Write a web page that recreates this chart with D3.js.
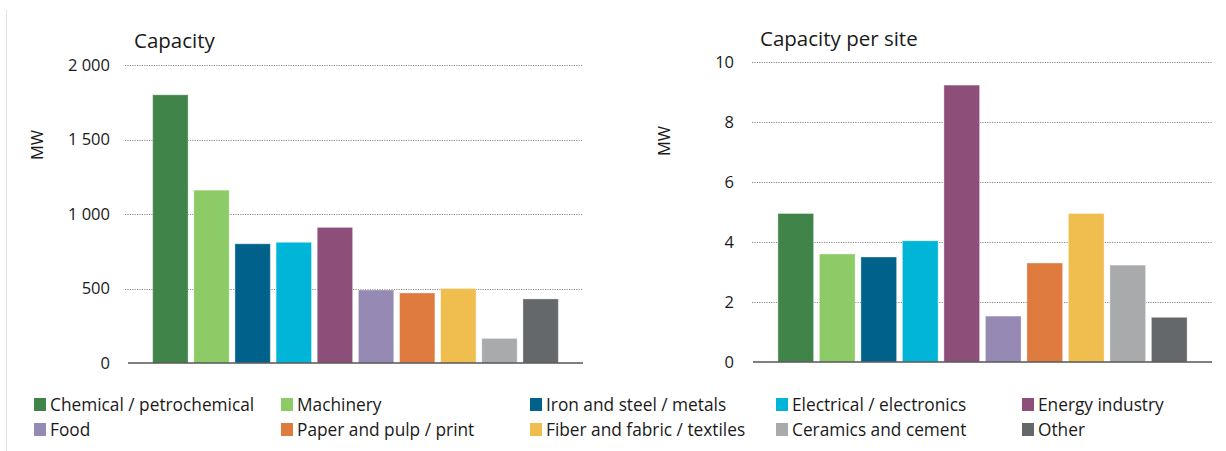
<!DOCTYPE html>
<html>
<head>
<meta charset="utf-8">
<script src="https://cdn.jsdelivr.net/npm/d3@7"></script>
<style>
  html, body { margin: 0; padding: 0; background: #fff; }
  svg { display: block; font-family: "Open Sans", Lato, sans-serif; }
</style>
</head>
<body>
<svg id="chart" width="1226" height="451"></svg>
<script>
// Sectors shown in both panels
const categories = [
  "Chemical / petrochemical", "Machinery", "Iron and steel / metals",
  "Electrical / electronics", "Energy industry", "Food",
  "Paper and pulp / print", "Fiber and fabric / textiles",
  "Ceramics and cement", "Other"
];
const colors = [
  "#41844a", "#8dcb67", "#00628b", "#00b5d8", "#8e4e7a",
  "#968ab5", "#e07b3f", "#f0bd4f", "#a9aaac", "#65686b"
];
// Total installed capacity (MW)
const capacity = [1800, 1160, 800, 810, 910, 490, 470, 500, 165, 430];
// Average capacity per site (MW)
const capacityPerSite = [4.95, 3.6, 3.5, 4.04, 9.23, 1.53, 3.3, 4.95, 3.23, 1.49];
const capacityTicks = [0, 500, 1000, 1500, 2000];
const perSiteTicks = [0, 2, 4, 6, 8, 10];
// Legend layout: two rows of five
const legendRows = [
  [0, 1, 2, 3, 4],
  [5, 6, 7, 8, 9]
];
const legendColumnX = [34, 281, 530, 776, 1022];

const svg = d3.select("#chart");

// faint frame line on the left edge
svg.append("line")
  .attr("x1", 6.5).attr("x2", 6.5).attr("y1", 10).attr("y2", 451)
  .attr("stroke", "#e2e2e2").attr("stroke-width", 1);

const fmt = d => d3.format(",")(d).replace(/,/g, " ");

function panel(opts) {
  const g = svg.append("g");
  const x = d3.scaleBand()
    .domain(categories)
    .range([opts.x0, opts.x1])
    .paddingInner(0.14)
    .paddingOuter(0.6);
  const y = d3.scaleLinear()
    .domain([0, opts.max])
    .range([opts.y0, opts.yTop]);

  // dotted gridlines
  g.append("g")
    .selectAll("line")
    .data(opts.ticks.filter(t => t > 0))
    .join("line")
    .attr("x1", opts.gx0).attr("x2", opts.x1)
    .attr("y1", d => Math.round(y(d)) + 0.5)
    .attr("y2", d => Math.round(y(d)) + 0.5)
    .attr("stroke", "#8a8a8a")
    .attr("stroke-width", 1)
    .attr("stroke-dasharray", "1.2,1.2");

  // y axis labels
  const axis = d3.axisLeft(y)
    .tickValues(opts.ticks)
    .tickFormat(opts.format)
    .tickSize(0)
    .tickPadding(0);
  const ag = g.append("g")
    .attr("transform", `translate(${opts.labelX},0)`)
    .call(axis);
  ag.select(".domain").remove();
  ag.selectAll("text")
    .attr("font-family", "'Open Sans', sans-serif")
    .attr("font-size", 16.5)
    .attr("fill", "#1a1a1a");

  // bars
  g.append("g")
    .selectAll("rect")
    .data(opts.values)
    .join("rect")
    .attr("x", (d, i) => x(categories[i]))
    .attr("width", x.bandwidth())
    .attr("y", d => y(d))
    .attr("height", d => y(0) - y(d))
    .attr("fill", (d, i) => colors[i])
    .attr("stroke", "#ffffff")
    .attr("stroke-opacity", 0.35)
    .attr("stroke-width", 1);

  // baseline
  g.append("line")
    .attr("x1", opts.x0).attr("x2", opts.x1)
    .attr("y1", y(0)).attr("y2", y(0))
    .attr("stroke", "#555")
    .attr("stroke-width", 1.6);

  // title
  g.append("text")
    .attr("x", opts.titleX).attr("y", opts.titleY)
    .attr("font-size", 20.5)
    .attr("fill", "#1a1a1a")
    .text(opts.title);

  // unit label
  g.append("text")
    .attr("transform", `translate(${opts.unitX},${opts.unitY}) rotate(-90)`)
    .attr("text-anchor", "middle")
    .attr("font-size", 16.5)
    .attr("fill", "#1a1a1a")
    .text("MW");
}

panel({
  values: capacity, max: 2000, ticks: capacityTicks, format: fmt,
  x0: 128, x1: 583, gx0: 125, y0: 363, yTop: 65,
  labelX: 110, title: "Capacity", titleX: 134, titleY: 48,
  unitX: 43, unitY: 145
});

panel({
  values: capacityPerSite, max: 10, ticks: perSiteTicks, format: d3.format("d"),
  x0: 753, x1: 1212, gx0: 752, y0: 362, yTop: 62,
  labelX: 734, title: "Capacity per site", titleX: 760, titleY: 46,
  unitX: 670, unitY: 141
});

// legend
const legend = svg.append("g");
legendRows.forEach((row, r) => {
  row.forEach((idx, c) => {
    const lg = legend.append("g")
      .attr("transform", `translate(${legendColumnX[c]},${405 + r * 25})`);
    lg.append("rect")
      .attr("x", 0).attr("y", -7)
      .attr("width", 12).attr("height", 13)
      .attr("fill", colors[idx]);
    lg.append("text")
      .attr("x", 16).attr("y", 0)
      .attr("dy", "0.35em")
      .attr("font-size", 17.3)
      .attr("fill", "#1a1a1a")
      .text(categories[idx]);
  });
});
</script>
</body>
</html>
